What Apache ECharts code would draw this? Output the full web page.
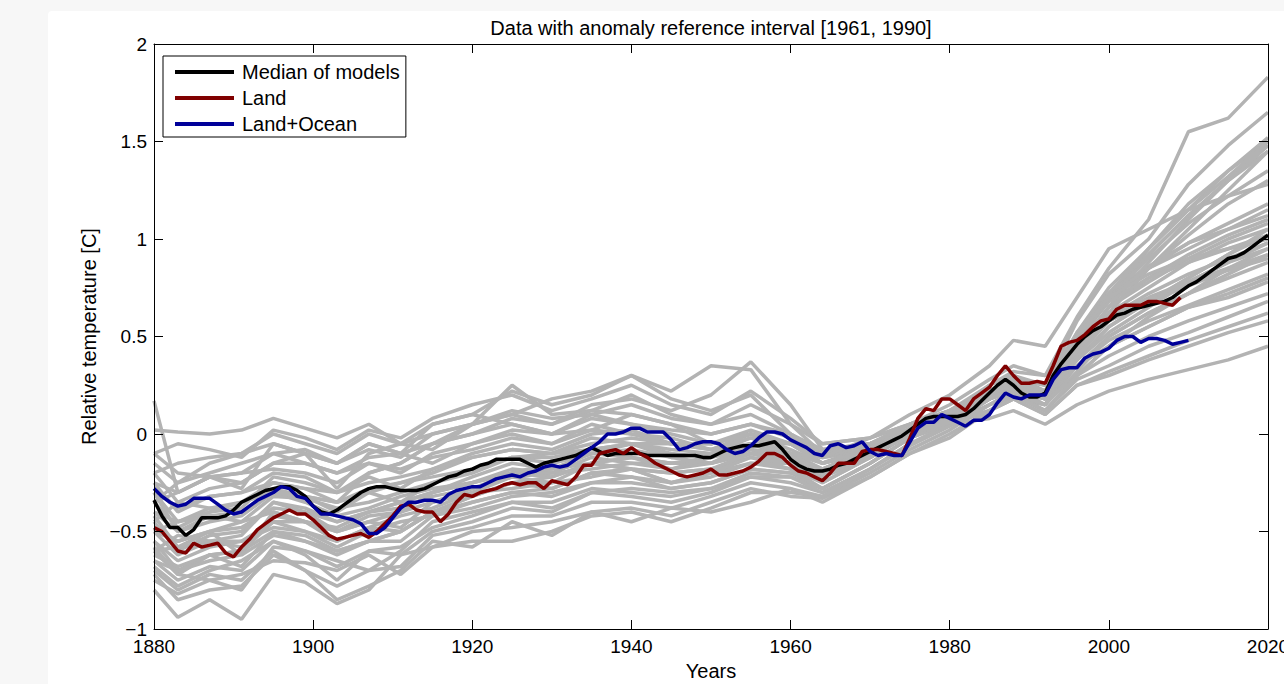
<!DOCTYPE html>
<html>
<head>
<meta charset="utf-8">
<script src="https://cdn.jsdelivr.net/npm/echarts/dist/echarts.min.js"></script>
<style>
html,body{margin:0;padding:0;width:1284px;height:684px;background:#f7f7f7;overflow:hidden}
#panel{position:absolute;left:48px;top:11px;width:1236px;height:673px;background:#ffffff;border-top-left-radius:4px}
#chart{position:absolute;left:0;top:0;width:1284px;height:684px}
</style>
</head>
<body>
<div id="panel"></div>
<div id="chart"></div>
<script>
// ---------- Text ----------
const chartTitle = 'Data with anomaly reference interval [1961, 1990]';
const xAxisName = 'Years';
const yAxisName = 'Relative temperature [C]';
const seriesNames = ['Median of models', 'Land', 'Land+Ocean'];

// ---------- Observed / median series (annual, starting 1880) ----------
const medianStartYear = 1880;
const medianValues = [
  -0.34,-0.42,-0.48,-0.48,-0.52,-0.49,-0.43,-0.43,-0.43,-0.42,
  -0.39,-0.35,-0.33,-0.31,-0.29,-0.28,-0.27,-0.27,-0.29,-0.32,
  -0.37,-0.40,-0.41,-0.39,-0.36,-0.33,-0.30,-0.28,-0.27,-0.27,
  -0.28,-0.29,-0.29,-0.29,-0.28,-0.26,-0.24,-0.22,-0.21,-0.19,
  -0.18,-0.16,-0.15,-0.13,-0.13,-0.13,-0.13,-0.15,-0.17,-0.15,
  -0.14,-0.13,-0.12,-0.11,-0.09,-0.07,-0.09,-0.11,-0.10,-0.10,
  -0.10,-0.10,-0.11,-0.11,-0.11,-0.11,-0.11,-0.11,-0.11,-0.12,
  -0.12,-0.10,-0.08,-0.07,-0.06,-0.06,-0.06,-0.05,-0.04,-0.08,
  -0.13,-0.16,-0.18,-0.19,-0.19,-0.18,-0.16,-0.15,-0.13,-0.11,
  -0.09,-0.07,-0.05,-0.03,-0.01,0.02,0.05,0.08,0.09,0.09,
  0.09,0.09,0.10,0.13,0.17,0.21,0.25,0.28,0.25,0.21,
  0.19,0.19,0.21,0.30,0.36,0.41,0.46,0.50,0.53,0.55,
  0.58,0.61,0.62,0.64,0.65,0.66,0.67,0.68,0.70,0.73,
  0.76,0.78,0.81,0.84,0.87,0.90,0.91,0.93,0.96,0.99,
  1.02
];

const landStartYear = 1880;
const landValues = [
  -0.48,-0.50,-0.55,-0.60,-0.61,-0.56,-0.58,-0.57,-0.56,-0.61,
  -0.63,-0.58,-0.54,-0.49,-0.46,-0.43,-0.41,-0.39,-0.41,-0.41,
  -0.44,-0.48,-0.52,-0.54,-0.53,-0.52,-0.51,-0.53,-0.50,-0.46,
  -0.42,-0.37,-0.36,-0.39,-0.40,-0.40,-0.45,-0.41,-0.35,-0.31,
  -0.32,-0.30,-0.29,-0.28,-0.26,-0.25,-0.26,-0.25,-0.25,-0.28,
  -0.24,-0.25,-0.26,-0.22,-0.16,-0.16,-0.10,-0.09,-0.08,-0.10,
  -0.07,-0.10,-0.12,-0.15,-0.17,-0.19,-0.21,-0.22,-0.21,-0.20,
  -0.18,-0.21,-0.21,-0.20,-0.19,-0.17,-0.14,-0.10,-0.10,-0.12,
  -0.16,-0.19,-0.20,-0.22,-0.24,-0.20,-0.15,-0.15,-0.15,-0.09,
  -0.08,-0.08,-0.09,-0.10,-0.11,-0.02,0.08,0.13,0.12,0.18,
  0.18,0.15,0.12,0.18,0.21,0.24,0.30,0.35,0.30,0.26,
  0.26,0.27,0.26,0.35,0.45,0.47,0.48,0.51,0.55,0.58,
  0.59,0.64,0.66,0.66,0.66,0.68,0.68,0.67,0.66,0.70
];

const landOceanStartYear = 1880;
const landOceanValues = [
  -0.28,-0.32,-0.35,-0.37,-0.36,-0.33,-0.33,-0.33,-0.36,-0.39,
  -0.41,-0.40,-0.37,-0.34,-0.32,-0.30,-0.27,-0.28,-0.32,-0.33,
  -0.37,-0.41,-0.41,-0.42,-0.43,-0.44,-0.46,-0.51,-0.51,-0.48,
  -0.43,-0.38,-0.35,-0.35,-0.34,-0.34,-0.35,-0.31,-0.29,-0.28,
  -0.27,-0.27,-0.25,-0.23,-0.22,-0.21,-0.22,-0.20,-0.19,-0.17,
  -0.16,-0.17,-0.16,-0.13,-0.10,-0.07,-0.04,0.00,0.00,0.01,
  0.03,0.03,0.01,0.01,0.01,-0.03,-0.08,-0.07,-0.05,-0.04,
  -0.04,-0.05,-0.08,-0.10,-0.09,-0.06,-0.02,0.01,0.01,0.00,
  -0.03,-0.05,-0.07,-0.10,-0.11,-0.06,-0.05,-0.07,-0.06,-0.04,
  -0.09,-0.11,-0.10,-0.11,-0.11,-0.04,0.03,0.06,0.06,0.10,
  0.08,0.06,0.04,0.07,0.07,0.10,0.16,0.21,0.19,0.18,
  0.20,0.20,0.20,0.28,0.33,0.34,0.34,0.39,0.41,0.42,
  0.44,0.48,0.50,0.50,0.47,0.49,0.49,0.48,0.46,0.47,
  0.48
];

// ---------- Individual model runs (sampled years) ----------
const grayYears = [1880,1883,1887,1891,1895,1899,1903,1907,1911,1915,
  1920,1925,1930,1935,1940,1945,1950,1955,1960,1964,1970,1975,1980,1985,1988,1992,1996,2000,2005,2010,2015,2020];

const model01 = [0.02,0.01,0.00,0.02,0.08,0.03,-0.02,0.05,-0.05,0.05, 0.10,0.05,0.00,0.02,0.10,0.05,-0.05,0.00,-0.05,-0.12,-0.05,0.00,0.05,0.08,0.12,0.05,0.15,0.22,0.28,0.33,0.38,0.45];
const model02 = [0.17,-0.30,-0.22,-0.25,-0.15,-0.10,-0.28,-0.10,-0.05,0.00, 0.05,0.25,0.10,0.12,0.20,0.10,0.05,0.15,0.05,-0.10,-0.05,0.05,0.12,0.25,0.30,0.20,0.35,0.45,0.55,0.65,0.70,0.78];
const model03 = [-0.80,-0.94,-0.85,-0.95,-0.72,-0.76,-0.87,-0.80,-0.62,-0.58, -0.55,-0.55,-0.50,-0.42,-0.40,-0.45,-0.38,-0.30,-0.30,-0.32,-0.20,-0.08,0.02,0.15,0.22,0.18,0.45,0.70,0.95,1.15,1.35,1.52];
const model04 = [-0.70,-0.80,-0.72,-0.75,-0.60,-0.70,-0.85,-0.78,-0.70,-0.55, -0.58,-0.45,-0.52,-0.40,-0.45,-0.38,-0.40,-0.35,-0.28,-0.35,-0.22,-0.10,-0.02,0.12,0.20,0.15,0.40,0.62,0.85,1.05,1.25,1.45];
const model05 = [-0.55,-0.65,-0.58,-0.55,-0.45,-0.45,-0.50,-0.45,-0.40,-0.30, -0.25,-0.20,-0.15,-0.10,-0.05,-0.12,-0.15,-0.05,-0.10,-0.20,-0.10,0.00,0.10,0.25,0.32,0.30,0.60,0.85,1.10,1.55,1.62,1.83];
const model06 = [-0.60,-0.72,-0.62,-0.68,-0.50,-0.55,-0.62,-0.55,-0.55,-0.42, -0.35,-0.30,-0.28,-0.20,-0.18,-0.25,-0.22,-0.15,-0.18,-0.28,-0.15,-0.02,0.08,0.22,0.28,0.25,0.58,0.82,1.00,1.28,1.48,1.65];
const model07 = [-0.35,-0.30,-0.22,-0.20,-0.10,-0.08,-0.15,-0.05,-0.10,0.05, 0.10,0.22,0.15,0.20,0.30,0.22,0.35,0.33,0.05,-0.05,-0.02,0.05,0.10,0.20,0.28,0.18,0.30,0.45,0.60,0.72,0.85,0.95];
const model08 = [-0.25,-0.40,-0.32,-0.30,-0.20,-0.22,-0.30,-0.20,-0.15,-0.05, 0.00,0.08,0.05,0.15,0.18,0.12,0.20,0.37,0.15,-0.08,-0.05,0.02,0.12,0.22,0.30,0.22,0.38,0.55,0.68,0.80,0.92,1.05];
const model09 = [-0.45,-0.60,-0.52,-0.50,-0.35,-0.38,-0.45,-0.40,-0.35,-0.30, -0.22,-0.15,-0.18,-0.10,-0.12,-0.15,-0.15,-0.08,-0.15,-0.22,-0.12,0.00,0.08,0.20,0.25,0.20,0.45,0.62,0.75,0.88,0.98,1.05];
const model10 = [-0.30,-0.45,-0.38,-0.35,-0.25,-0.28,-0.35,-0.28,-0.25,-0.20, -0.12,-0.08,-0.10,-0.02,-0.05,-0.08,-0.10,-0.02,-0.10,-0.18,-0.08,0.02,0.10,0.22,0.28,0.20,0.42,0.58,0.68,0.78,0.88,0.95];
const model11 = [-0.50,-0.55,-0.50,-0.62,-0.40,-0.45,-0.55,-0.48,-0.42,-0.38, -0.30,-0.22,-0.25,-0.15,-0.18,-0.20,-0.18,-0.12,-0.18,-0.25,-0.12,0.00,0.10,0.18,0.25,0.18,0.48,0.68,0.85,1.02,1.18,1.30];
const model12 = [-0.20,-0.35,-0.28,-0.25,-0.15,-0.15,-0.20,-0.12,-0.10,-0.15, -0.05,0.00,-0.05,0.05,0.00,-0.02,-0.08,0.00,-0.08,-0.15,-0.10,0.02,0.08,0.18,0.24,0.15,0.35,0.50,0.62,0.72,0.82,0.92];
const model13 = [-0.65,-0.75,-0.68,-0.70,-0.55,-0.60,-0.68,-0.60,-0.62,-0.50, -0.45,-0.38,-0.40,-0.30,-0.32,-0.35,-0.30,-0.22,-0.25,-0.30,-0.18,-0.05,0.05,0.18,0.24,0.22,0.52,0.75,0.95,1.18,1.35,1.50];
const model14 = [-0.40,-0.50,-0.42,-0.45,-0.32,-0.33,-0.38,-0.35,-0.30,-0.25, -0.20,-0.12,-0.12,-0.08,-0.05,-0.10,-0.12,-0.05,-0.12,-0.20,-0.10,0.02,0.10,0.22,0.27,0.20,0.45,0.65,0.78,0.90,1.00,1.08];
const model15 = [-0.15,-0.25,-0.15,-0.10,0.00,-0.05,-0.10,0.00,-0.05,-0.08, 0.05,0.10,0.05,0.12,0.10,0.05,0.00,0.05,-0.02,-0.10,-0.05,0.05,0.12,0.20,0.25,0.18,0.35,0.48,0.58,0.66,0.74,0.82];
const model16 = [-0.55,-0.70,-0.62,-0.60,-0.50,-0.52,-0.60,-0.55,-0.50,-0.40, -0.35,-0.30,-0.32,-0.25,-0.25,-0.28,-0.25,-0.18,-0.20,-0.28,-0.15,-0.02,0.06,0.20,0.26,0.22,0.50,0.72,0.86,0.98,1.08,1.18];
const model17 = [-0.35,-0.25,-0.20,-0.15,-0.10,-0.15,-0.20,-0.15,-0.20,-0.10, -0.05,0.02,0.00,0.10,0.05,0.00,-0.05,0.02,-0.05,-0.12,-0.08,0.00,0.05,0.15,0.20,0.12,0.30,0.45,0.55,0.65,0.72,0.80];
const model18 = [-0.60,-0.58,-0.50,-0.45,-0.40,-0.45,-0.50,-0.45,-0.48,-0.35, -0.30,-0.28,-0.25,-0.22,-0.18,-0.25,-0.20,-0.15,-0.15,-0.25,-0.12,0.00,0.08,0.22,0.30,0.25,0.52,0.72,0.92,1.12,1.30,1.45];
const model19 = [-0.75,-0.82,-0.75,-0.72,-0.65,-0.66,-0.70,-0.62,-0.72,-0.58, -0.50,-0.48,-0.45,-0.40,-0.38,-0.42,-0.35,-0.28,-0.32,-0.33,-0.22,-0.10,0.00,0.12,0.18,0.15,0.42,0.65,0.88,1.10,1.30,1.48];
const model20 = [-0.10,-0.20,-0.22,-0.28,-0.05,-0.10,-0.15,-0.08,-0.12,0.00, 0.05,0.12,0.08,0.10,0.15,0.08,0.05,0.10,0.00,-0.12,-0.08,0.02,0.10,0.18,0.22,0.15,0.32,0.50,0.62,0.72,0.80,0.88];
const model21 = [-0.45,-0.35,-0.38,-0.40,-0.28,-0.32,-0.40,-0.30,-0.35,-0.25, -0.18,-0.12,-0.15,-0.10,-0.08,-0.12,-0.10,-0.05,-0.10,-0.18,-0.08,0.02,0.10,0.20,0.28,0.22,0.45,0.60,0.72,0.82,0.90,0.98];
const model22 = [-0.62,-0.68,-0.62,-0.60,-0.45,-0.50,-0.58,-0.50,-0.45,-0.42, -0.38,-0.32,-0.30,-0.25,-0.22,-0.28,-0.25,-0.18,-0.20,-0.22,-0.12,0.00,0.08,0.20,0.25,0.20,0.48,0.68,0.85,0.95,1.05,1.15];
const model23 = [-0.30,-0.50,-0.45,-0.42,-0.30,-0.35,-0.42,-0.38,-0.32,-0.28, -0.25,-0.18,-0.20,-0.12,-0.15,-0.15,-0.15,-0.10,-0.12,-0.18,-0.08,0.02,0.10,0.20,0.26,0.20,0.42,0.60,0.70,0.78,0.85,0.92];
const model24 = [-0.20,-0.15,-0.12,-0.10,-0.05,-0.10,-0.15,-0.05,-0.10,-0.05, 0.00,0.05,0.00,0.08,0.05,0.02,0.00,0.05,0.00,-0.08,-0.05,0.02,0.05,0.12,0.18,0.10,0.25,0.30,0.38,0.45,0.52,0.58];
const model25 = [-0.40,-0.45,-0.40,-0.35,-0.30,-0.32,-0.35,-0.30,-0.25,-0.22, -0.18,-0.12,-0.10,-0.08,-0.05,-0.05,-0.08,-0.05,-0.05,-0.12,-0.05,0.02,0.05,0.12,0.20,0.12,0.28,0.35,0.45,0.52,0.60,0.68];
const model26 = [-0.50,-0.62,-0.55,-0.58,-0.42,-0.45,-0.48,-0.40,-0.38,-0.32, -0.28,-0.22,-0.20,-0.18,-0.15,-0.18,-0.15,-0.10,-0.12,-0.20,-0.10,0.00,0.08,0.20,0.26,0.20,0.45,0.65,0.80,0.92,1.02,1.10];
const model27 = [-0.68,-0.78,-0.70,-0.65,-0.55,-0.62,-0.75,-0.60,-0.58,-0.48, -0.42,-0.35,-0.35,-0.28,-0.30,-0.32,-0.28,-0.22,-0.22,-0.28,-0.15,-0.02,0.05,0.18,0.24,0.20,0.50,0.72,0.92,1.12,1.30,1.48];
const model28 = [-0.25,-0.30,-0.22,-0.20,-0.18,-0.20,-0.25,-0.15,-0.18,-0.12, -0.08,-0.02,-0.05,0.02,0.00,-0.05,-0.05,0.00,-0.05,-0.15,-0.06,0.03,0.10,0.18,0.25,0.18,0.38,0.55,0.68,0.80,0.92,1.02];
const model29 = [-0.58,-0.72,-0.75,-0.80,-0.58,-0.60,-0.65,-0.70,-0.60,-0.45, -0.40,-0.35,-0.38,-0.30,-0.28,-0.30,-0.28,-0.20,-0.22,-0.30,-0.18,-0.05,0.05,0.18,0.22,0.18,0.48,0.70,0.90,1.08,1.22,1.35];
const model30 = [-0.35,-0.48,-0.40,-0.38,-0.22,-0.25,-0.30,-0.22,-0.28,-0.18, -0.10,-0.05,-0.08,0.00,0.02,-0.05,-0.05,0.00,-0.05,-0.15,-0.08,0.02,0.10,0.20,0.25,0.18,0.40,0.58,0.68,0.76,0.84,0.90];
const model31 = [-0.48,-0.55,-0.50,-0.48,-0.38,-0.40,-0.45,-0.40,-0.35,-0.30, -0.25,-0.20,-0.18,-0.15,-0.12,-0.15,-0.12,-0.08,-0.10,-0.15,-0.08,0.00,0.06,0.15,0.20,0.12,0.30,0.40,0.50,0.58,0.65,0.72];
const model32 = [-0.72,-0.85,-0.80,-0.78,-0.62,-0.70,-0.78,-0.70,-0.68,-0.52, -0.48,-0.42,-0.42,-0.35,-0.35,-0.38,-0.32,-0.25,-0.28,-0.32,-0.18,-0.06,0.04,0.15,0.22,0.18,0.48,0.72,0.95,1.15,1.32,1.50];
const model33 = [-0.10,-0.05,-0.08,-0.12,0.02,-0.02,-0.08,0.02,-0.02,0.08, 0.15,0.20,0.12,0.18,0.25,0.15,0.10,0.22,0.08,-0.05,-0.02,0.05,0.12,0.22,0.28,0.20,0.38,0.52,0.65,0.78,0.88,0.98];
const model34 = [-0.42,-0.58,-0.55,-0.52,-0.35,-0.40,-0.50,-0.42,-0.40,-0.35, -0.28,-0.20,-0.22,-0.15,-0.18,-0.20,-0.18,-0.10,-0.15,-0.22,-0.12,0.00,0.08,0.18,0.24,0.20,0.48,0.70,0.85,0.98,1.05,1.12];
const model35 = [-0.60,-0.52,-0.55,-0.55,-0.48,-0.50,-0.55,-0.48,-0.50,-0.40, -0.32,-0.25,-0.28,-0.20,-0.22,-0.25,-0.20,-0.12,-0.15,-0.22,-0.10,0.02,0.10,0.22,0.28,0.22,0.50,0.68,0.80,0.88,0.95,1.00];
const model36 = [-0.28,-0.38,-0.32,-0.30,-0.25,-0.28,-0.30,-0.25,-0.22,-0.18, -0.12,-0.08,-0.10,-0.05,-0.02,-0.05,-0.08,-0.02,-0.05,-0.15,-0.08,0.00,0.06,0.12,0.18,0.10,0.25,0.32,0.40,0.48,0.55,0.62];
const model37 = [-0.50,-0.45,-0.42,-0.40,-0.30,-0.32,-0.35,-0.20,-0.15,-0.05, 0.05,0.10,0.18,0.22,0.30,0.18,0.12,0.20,0.00,-0.10,-0.05,0.05,0.15,0.28,0.35,0.30,0.50,0.70,0.82,0.90,0.95,1.02];
const model38 = [-0.65,-0.70,-0.65,-0.62,-0.52,-0.55,-0.60,-0.55,-0.50,-0.40, -0.32,-0.25,-0.22,-0.15,-0.12,-0.18,-0.12,-0.05,-0.10,-0.12,-0.02,0.10,0.20,0.35,0.48,0.45,0.70,0.95,1.05,1.15,1.22,1.28];

const grayModels = [model01,model02,model03,model04,model05,model06,model07,model08,model09,model10,
  model11,model12,model13,model14,model15,model16,model17,model18,model19,model20,
  model21,model22,model23,model24,model25,model26,model27,model28,model29,model30,
  model31,model32,model33,model34,model35,model36,model37,model38];

// ---------- Axis ticks ----------
const xMin = 1880, xMax = 2020, xStep = 20;
const yMin = -1, yMax = 2, yStep = 0.5;

// ---------- Chart ----------
const FONT = '"Liberation Sans", Arial, Helvetica, sans-serif';
const chart = echarts.init(document.getElementById('chart'), null, {renderer: 'svg'});

function annual(start, vals) { return vals.map((v, i) => [start + i, v]); }

const axisLineStyle = {show: true, onZero: false, lineStyle: {color: '#000', width: 1}};
const tickStyle = {show: true, inside: true, length: 9, lineStyle: {color: '#000', width: 1}};

const series = [];
grayModels.forEach((vals, k) => {
  series.push({
    name: 'model' + (k + 1), type: 'line', silent: true,
    data: grayYears.map((y, i) => [y, vals[i]]),
    symbol: 'none', showSymbol: false,
    lineStyle: {color: '#b3b3b3', width: 3.5},
    itemStyle: {color: '#b3b3b3'},
    z: 2
  });
});
series.push({
  name: seriesNames[0], type: 'line', data: annual(medianStartYear, medianValues),
  symbol: 'none', showSymbol: false, lineStyle: {color: '#000000', width: 3.5}, itemStyle: {color: '#000000'}, z: 3
});
series.push({
  name: seriesNames[1], type: 'line', data: annual(landStartYear, landValues),
  symbol: 'none', showSymbol: false, lineStyle: {color: '#800000', width: 3.5}, itemStyle: {color: '#800000'}, z: 3
});
series.push({
  name: seriesNames[2], type: 'line', data: annual(landOceanStartYear, landOceanValues),
  symbol: 'none', showSymbol: false, lineStyle: {color: '#000099', width: 3.5}, itemStyle: {color: '#000099'}, z: 3
});

const option = {
  animation: false,
  textStyle: {fontFamily: FONT},
  grid: {left: 154, right: 16, top: 44, bottom: 55, containLabel: false, outerBoundsMode: 'none'},
  graphic: [{
    type: 'text', x: 711, y: 28, z: 10,
    style: {text: chartTitle, font: '20px ' + FONT, fill: '#000', align: 'center', verticalAlign: 'middle', textAlign: 'center', textVerticalAlign: 'middle'}
  }],
  legend: {
    data: seriesNames, orient: 'vertical', left: 163, top: 56,
    icon: 'rect', itemWidth: 59, itemHeight: 4, itemGap: 6,
    padding: [6, 6, 3, 12],
    backgroundColor: '#fff', borderColor: '#000', borderWidth: 1, borderRadius: 0,
    textStyle: {fontSize: 20, color: '#000', lineHeight: 20, fontFamily: FONT, padding: [0, 0, 0, 3]},
    selectedMode: false, z: 20
  },
  xAxis: [{
    type: 'value', min: xMin, max: xMax, interval: xStep, position: 'bottom',
    axisLine: axisLineStyle, axisTick: tickStyle, splitLine: {show: false},
    axisLabel: {fontSize: 19, lineHeight: 15, color: '#000', margin: 10, fontFamily: FONT, hideOverlap: false,
      formatter: v => String(v)},
    name: xAxisName, nameLocation: 'middle', nameGap: 32,
    nameTextStyle: {fontSize: 20, color: '#000', fontFamily: FONT}, z: 10
  }, {
    type: 'value', min: xMin, max: xMax, interval: xStep, position: 'top',
    axisLine: axisLineStyle, axisTick: tickStyle, splitLine: {show: false},
    axisLabel: {show: false}, z: 10
  }],
  yAxis: [{
    type: 'value', min: yMin, max: yMax, interval: yStep, position: 'left',
    axisLine: axisLineStyle, axisTick: tickStyle, splitLine: {show: false},
    axisLabel: {fontSize: 19, lineHeight: 15, color: '#000', margin: 7, fontFamily: FONT,
      formatter: v => String(v).replace('-', '\u2212')},
    name: yAxisName, nameLocation: 'middle', nameGap: 55,
    nameTextStyle: {fontSize: 20, color: '#000', fontFamily: FONT}, z: 10
  }, {
    type: 'value', min: yMin, max: yMax, interval: yStep, position: 'right',
    axisLine: axisLineStyle, axisTick: tickStyle, splitLine: {show: false},
    axisLabel: {show: false}, z: 10
  }],
  series: series
};
chart.setOption(option);
</script>
</body>
</html>
